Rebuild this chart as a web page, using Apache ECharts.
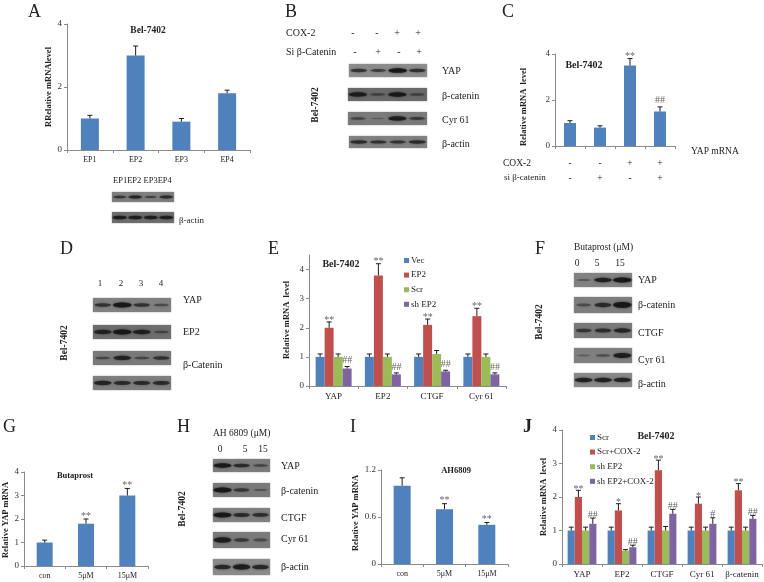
<!DOCTYPE html>
<html><head><meta charset="utf-8">
<script src="https://cdn.jsdelivr.net/npm/echarts@6/dist/echarts.min.js"></script>
<style>html,body{margin:0;background:#fff}#c{width:764px;height:582px;filter:blur(0.45px)}</style>
</head><body><div id="c"></div>
<script>
// ---------- data ----------
const catsA = ['EP1','EP2','EP3','EP4'];
const valsA = [1,3,0.9,1.8];
const errA  = [0.1,0.3,0.1,0.1];

const catsC = ['a','b','c','d'];
const valsC = [1,0.8,3.5,1.5];
const errC  = [0.1,0.08,0.3,0.2];
const marksC = ['','','**','##'];

const catsE = ['YAP','EP2','CTGF','Cyr 61'];
const namesE = ['Vec','EP2','Scr','sh EP2'];
const vecE = [1,1,1,1];
const ep2E = [2,3.8,2.1,2.4];
const scrE = [1,1,1.1,1];
const shE  = [0.6,0.4,0.5,0.4];
const vecErrE = [0.1,0.1,0.1,0.1];
const ep2ErrE = [0.2,0.4,0.2,0.27];
const scrErrE = [0.1,0.1,0.12,0.1];
const shErrE  = [0.07,0.05,0.04,0.05];
const ep2MarksE = ['**','**','**','**'];
const shMarksE  = ['##','##','##','##'];

const catsG = ['con','5μM','15μM'];
const valsG = [1,1.8,3];
const errG  = [0.1,0.2,0.3];
const marksG = ['','**','**'];

const catsI = ['con','5μM','15μM'];
const valsI = [1,0.7,0.5];
const errI  = [0.1,0.07,0.03];
const marksI = ['','**','**'];

const catsJ = ['YAP','EP2','CTGF','Cyr 61','β-catenin'];
const namesJ = ['Scr','Scr+COX-2','sh EP2','sh EP2+COX-2'];
const scrJ = [1,1,1,1,1];
const coxJ = [2,1.6,2.8,1.8,2.2];
const shJ  = [1,0.4,1,1,1];
const shCoxJ = [1.2,0.5,1.5,1.2,1.35];
const scrErrJ = [0.1,0.1,0.1,0.1,0.1];
const coxErrJ = [0.2,0.2,0.3,0.2,0.2];
const shErrJ  = [0.1,0.03,0.12,0.1,0.1];
const shCoxErrJ = [0.17,0.06,0.13,0.18,0.1];
const coxMarksJ = ['**','*','**','*','**'];
const shCoxMarksJ = ['##','##','##','#','##'];

// band strength per lane, one row per blot
const bandsA = [[.6,.8,.45,.7],[.9,.85,.85,.85]];
const bandsB = [[.6,.5,1,.65],[.9,.35,.95,.35],[.4,.1,.9,.5],[.7,.65,.6,.7]];
const bandsD = [[.6,1,.6,.35],[.8,1,.85,.3],[.35,.8,.35,.6],[.8,.7,.7,.7]];
const bandsF = [[.2,.85,1],[.3,.7,1],[.55,.65,.75],[.1,.3,.9],[.85,.85,.8]];
const bandsH = [[.95,.7,.4],[1,.55,.2],[1,.7,.65],[.9,.5,.3],[.75,.9,.75]];

// ---------- style ----------
const SERIF = '"Liberation Serif"';
const BLUE='#4F81BD', RED='#C0504D', GREEN='#9BBB59', PURPLE='#8064A2';
const AXIS='#8a8a8a', INK='#222';

const grid=[], xAxis=[], yAxis=[], series=[], graphic=[], legend=[];

function txt(text,x,y,size,opt){
  opt=opt||{};
  graphic.push({type:'text',x:x,y:y,rotation:opt.rot||0,silent:true,style:{
    text:text,x:0,y:0,fill:opt.fill||INK,
    font:(opt.bold?'bold ':'')+size+'px '+SERIF,
    textAlign:opt.align||'left',textVerticalAlign:'middle'}});
}
const vtxt=(t,x,y,size)=>txt(t,x,y,size,{rot:Math.PI/2,bold:true,align:'center'});

function blot(x,y,w,h,bands,bg){
  graphic.push({type:'rect',silent:true,shape:{x:x,y:y,width:w,height:h},
    style:{fill:bg||'#858585',shadowBlur:1.5,shadowColor:'rgba(120,120,120,.7)'}});
  const lane=w/bands.length;
  bands.forEach((s,i)=>{
    graphic.push({type:'ellipse',silent:true,
      shape:{cx:x+lane*(i+.5),cy:y+h/2,rx:lane/2*(.68+.27*s),ry:h*(.05+.13*s)},
      style:{fill:'rgba(20,20,20,'+(.2+.7*s)+')',shadowBlur:2.5,shadowColor:'rgba(20,20,20,'+(.2+.6*s)+')'}});
  });
}

function panel(rect,cats,ymax,interval,ticks,labelSize,labelMargin){
  const i=grid.length;
  grid.push({left:rect[0],top:rect[1],width:rect[2]-rect[0],height:rect[3]-rect[1],containLabel:false});
  xAxis.push({type:'category',gridIndex:i,data:cats,
    axisLine:{lineStyle:{color:AXIS}},axisTick:{show:true,length:3,lineStyle:{color:AXIS}},
    axisLabel:{show:labelSize>0,fontFamily:SERIF,fontSize:labelSize||8,color:INK,margin:labelMargin||5,interval:0}});
  yAxis.push({type:'value',gridIndex:i,min:0,max:ymax,interval:interval,
    axisLine:{show:true,lineStyle:{color:AXIS}},
    axisTick:{show:true,length:3,lineStyle:{color:AXIS},customValues:ticks},
    splitLine:{show:false},
    axisLabel:{fontFamily:SERIF,fontSize:9,color:'#333',margin:5,customValues:ticks}});
  return i;
}

function bars(p,name,vals,errs,marks,color,barW,n,idx,starDy,hashDy){
  series.push({type:'bar',name:name,xAxisIndex:p,yAxisIndex:p,data:vals,barWidth:barW,barGap:'0%',
    itemStyle:{color:color},silent:true});
  const off=(idx-(n-1)/2)*barW;
  series.push({type:'custom',name:name,xAxisIndex:p,yAxisIndex:p,silent:true,z:5,
    data:vals.map((v,i)=>[i,v,errs[i],(marks&&marks[i])||'']),
    encode:{x:0,y:1},
    renderItem:function(par,api){
      const base=api.coord([api.value(0),api.value(1)]);
      const top=api.coord([api.value(0),api.value(1)+api.value(2)]);
      const x=base[0]+off, ty=top[1], cap=Math.min(barW*0.35,2.5);
      const ls={stroke:'#1c1c1c',lineWidth:1};
      const ch=[
        {type:'line',shape:{x1:x,y1:base[1],x2:x,y2:ty},style:ls},
        {type:'line',shape:{x1:x-cap,y1:ty,x2:x+cap,y2:ty},style:ls}];
      const m=api.value(3);
      if(m){
        const star=m.charAt(0)==='*';
        ch.push({type:'text',style:{text:m,x:x,y:ty+(star?starDy:hashDy),fill:'#666',
          font:'10px '+SERIF,textAlign:'center',textVerticalAlign:'middle'}});
      }
      return {type:'group',children:ch};
    }});
}

function legendFor(p,names,colors,left,top,gap){
  legend.push({show:true,orient:'vertical',left:left,top:top,itemWidth:5,itemHeight:5,itemGap:gap,
    selectedMode:false,icon:'rect',padding:0,
    textStyle:{fontFamily:SERIF,fontSize:9,color:INK,padding:[0,0,0,-3]},
    data:names.map((n,i)=>({name:n,itemStyle:{color:colors[i]}}))});
}

// ---------- panel A ----------
let p=panel([67,24,250,150],catsA,4,2,[0,2,4],8,6);
bars(p,'A',valsA,errA,null,BLUE,18,1,0,-2,-6);
txt('A',28,12,18);
txt('Bel-7402',148,31,9.5,{bold:true,align:'center'});
vtxt('RRelative mRNAlevel',49,87,8.5);
txt('EP1EP2 EP3EP4',113,181,8.5);
blot(112,192,62,10,bandsA[0],'#7f7f7f');
blot(112,212,62,11,bandsA[1],'#6f6f6f');
txt('β-actin',179,221,9);

// ---------- panel B ----------
txt('B',285,12,18);
txt('COX-2',286,33,10);
txt('Si β-Catenin',286,52,10);
['-','-','+','+'].forEach((s,i)=>txt(s,[353,377,397,418][i],33,10,{align:'center'}));
['-','+','-','+'].forEach((s,i)=>txt(s,[355,378,399,419][i],52,10,{align:'center'}));
[[349,64,78,13],[348,88,79,13],[348,112,79,13],[349,136,78,12]].forEach((r,i)=>
  blot(r[0],r[1],r[2],r[3],bandsB[i],['#8c8c8c','#6a6a6a','#7a7a7a','#828282'][i]));
['YAP','β-catenin','Cyr 61','β-actin'].forEach((s,i)=>txt(s,442,[71,96,120,144][i],10));
vtxt('Bel-7402',316,105,9.5);

// ---------- panel C ----------
p=panel([555,54,675,146],catsC,4,2,[0,2,4],0);
bars(p,'C',valsC,errC,marksC,BLUE,12,1,0,-2,-7);
txt('C',502,12,18);
txt('Bel-7402',584,65,10,{bold:true,align:'center'});
vtxt('Relative mRNA  level',524,107,8.5);
txt('YAP mRNA',691,151,9.5);
txt('COX-2',503,163,9.5);
txt('si β-catenin',504,178,9);
['-','-','+','+'].forEach((s,i)=>txt(s,[570,600,630,660][i],163,9.5,{align:'center'}));
['-','+','-','+'].forEach((s,i)=>txt(s,[570,600,630,660][i],178,9.5,{align:'center'}));

// ---------- panel D ----------
txt('D',60,249,18);
['1','2','3','4'].forEach((s,i)=>txt(s,[100,121,141,161][i],284,9,{align:'center'}));
[[93,298,78,14],[93,325,78,14],[93,351,78,14],[93,376,78,14]].forEach((r,i)=>
  blot(r[0],r[1],r[2],r[3],bandsD[i],['#808080','#6e6e6e','#7a7a7a','#7f7f7f'][i]));
txt('YAP',183,300,10);
txt('EP2',183,332,10);
txt('β-Catenin',183,365,10);
vtxt('Bel-7402',65,343,9.5);

// ---------- panel E ----------
p=panel([309,255,506,386],catsE,4.5,1,[0,1,2,3,4],9,6);
[[vecE,vecErrE,null,BLUE],[ep2E,ep2ErrE,ep2MarksE,RED],[scrE,scrErrE,null,GREEN],[shE,shErrE,shMarksE,PURPLE]]
  .forEach((s,i)=>bars(p,namesE[i],s[0],s[1],s[2],s[3],9,4,i,-2,-6));
txt('E',268,249,18);
txt('Bel-7402',341,264,10,{bold:true,align:'center'});
vtxt('Relative mRNA  level',287,320,8.5);
legendFor(p,namesE,[BLUE,RED,GREEN,PURPLE],404,256,5.6);

// ---------- panel F ----------
txt('F',535,249,18);
txt('Butaprost (μM)',574,247,9.5);
['0','5','15'].forEach((s,i)=>txt(s,[577,597,620][i],263,9.5,{align:'center'}));
[[574,273,58,14],[574,297,58,16],[574,323,58,15],[574,348,58,15],[574,373,58,14]].forEach((r,i)=>
  blot(r[0],r[1],r[2],r[3],bandsF[i],['#828282','#7e7e7e','#7a7a7a','#808080','#888888'][i]));
['YAP','β-catenin','CTGF','Cyr 61','β-actin'].forEach((s,i)=>txt(s,638,[280,305,333,360,384][i],10));
vtxt('Bel-7402',540,322,9.5);

// ---------- panel G ----------
p=panel([24,472,148,566],catsG,4,1,[0,1,2,3,4],8,6);
bars(p,'G',valsG,errG,marksG,BLUE,16,1,0,-3,-6);
txt('G',3,427,18);
txt('Butaprost',75,476,8.5,{bold:true,align:'center'});
vtxt('Relative YAP mRNA',6,520,8.5);

// ---------- panel H ----------
txt('H',177,427,18);
txt('AH 6809 (μM)',213,433,9.5);
['0','5','15'].forEach((s,i)=>txt(s,[220,245,263][i],449,9.5,{align:'center'}));
[[213,459,57,13],[213,483,57,14],[213,508,57,14],[213,532,57,16],[213,559,57,16]].forEach((r,i)=>
  blot(r[0],r[1],r[2],r[3],bandsH[i],['#7c7c7c','#7a7a7a','#808080','#7a7a7a','#8a8a8a'][i]));
['YAP','β-catenin','CTGF','Cyr 61','β-actin'].forEach((s,i)=>txt(s,281,[466,491,518,539,567][i],10));
vtxt('Bel-7402',183,509,9.5);

// ---------- panel I ----------
p=panel([381,470,508,564],catsI,1.2,0.6,[0,0.6,1.2],8,6);
bars(p,'I',valsI,errI,marksI,BLUE,17,1,0,-3,-6);
txt('I',350,427,18);
txt('AH6809',456,471,8.5,{bold:true,align:'center'});
vtxt('Relative YAP mRNA',356,513,8.5);

// ---------- panel J ----------
p=panel([562,430,762,564],catsJ,4,1,[0,1,2,3,4],9,6);
[[scrJ,scrErrJ,null,BLUE],[coxJ,coxErrJ,coxMarksJ,RED],[shJ,shErrJ,null,GREEN],[shCoxJ,shCoxErrJ,shCoxMarksJ,PURPLE]]
  .forEach((s,i)=>bars(p,namesJ[i],s[0],s[1],s[2],s[3],7.2,4,i,-1,-3));
txt('J',523,427,18,{bold:true});
txt('Bel-7402',656,436,10,{bold:true,align:'center'});
vtxt('Relative mRNA  level',544,497,8.5);
legendFor(p,namesJ,[BLUE,RED,GREEN,PURPLE],590,433,5.6);

echarts.init(document.getElementById('c'),null,{renderer:'canvas'}).setOption({
  animation:false,backgroundColor:'#fff',
  grid:grid,xAxis:xAxis,yAxis:yAxis,series:series,legend:legend,graphic:graphic
});
</script></body></html>
